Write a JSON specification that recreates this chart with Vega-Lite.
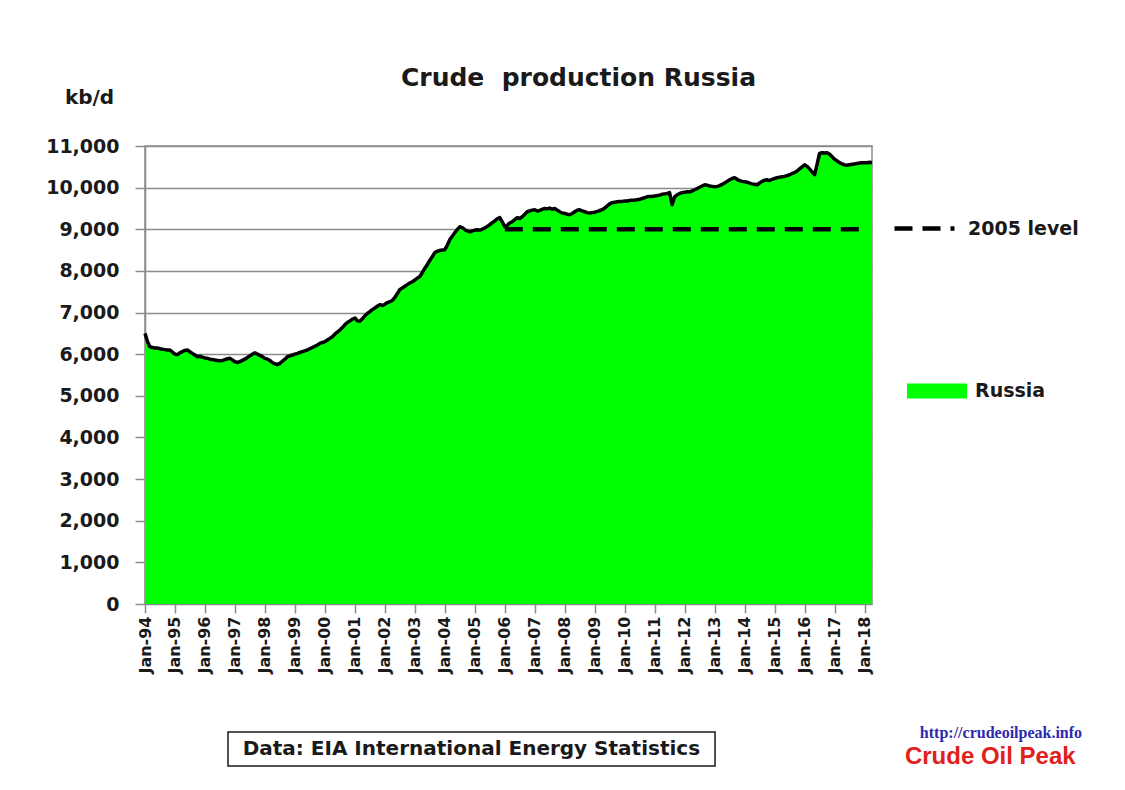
{
  "$schema": "https://vega.github.io/schema/vega-lite/v6.json",
  "width": 727,
  "height": 458,
  "autosize": "none",
  "padding": {"left": 145, "top": 146, "right": 253, "bottom": 186},
  "background": "white",
  "title": {
    "text": "Crude\u00a0 production Russia",
    "font": "DejaVu Sans",
    "fontSize": 25,
    "fontWeight": "bold",
    "color": "#1a1a1a",
    "anchor": "middle",
    "frame": "group",
    "dx": 70,
    "offset": -4
  },
  "config": {
    "view": {"stroke": "#8c8c8c", "strokeWidth": 1.5},
    "axis": {
      "labelFont": "DejaVu Sans",
      "labelFontWeight": "bold",
      "labelColor": "#1a1a1a",
      "domainColor": "#8c8c8c",
      "domainWidth": 1.5,
      "tickColor": "#8c8c8c",
      "tickWidth": 1.5,
      "gridColor": "#8c8c8c",
      "gridWidth": 1.5
    },
    "legend": {
      "labelFont": "DejaVu Sans",
      "labelFontWeight": "bold",
      "labelColor": "#1a1a1a",
      "labelFontSize": 19,
      "padding": 0
    }
  },
  "datasets": {
    "russia": [
      {"d":"1994-01-01","v":6500},{"d":"1994-02-01","v":6300},{"d":"1994-03-01","v":6180},{"d":"1994-04-01","v":6160},{"d":"1994-05-01","v":6150},{"d":"1994-06-01","v":6150},{"d":"1994-07-01","v":6130},{"d":"1994-08-01","v":6120},{"d":"1994-09-01","v":6110},{"d":"1994-10-01","v":6100},{"d":"1994-11-01","v":6100},{"d":"1994-12-01","v":6050},
      {"d":"1995-01-01","v":6000},{"d":"1995-02-01","v":5990},{"d":"1995-03-01","v":6030},{"d":"1995-04-01","v":6060},{"d":"1995-05-01","v":6090},{"d":"1995-06-01","v":6100},{"d":"1995-07-01","v":6060},{"d":"1995-08-01","v":6020},{"d":"1995-09-01","v":5980},{"d":"1995-10-01","v":5940},{"d":"1995-11-01","v":5950},{"d":"1995-12-01","v":5930},
      {"d":"1996-01-01","v":5910},{"d":"1996-02-01","v":5900},{"d":"1996-03-01","v":5880},{"d":"1996-04-01","v":5870},{"d":"1996-05-01","v":5860},{"d":"1996-06-01","v":5850},{"d":"1996-07-01","v":5840},{"d":"1996-08-01","v":5850},{"d":"1996-09-01","v":5870},{"d":"1996-10-01","v":5890},{"d":"1996-11-01","v":5900},{"d":"1996-12-01","v":5860},
      {"d":"1997-01-01","v":5820},{"d":"1997-02-01","v":5800},{"d":"1997-03-01","v":5820},{"d":"1997-04-01","v":5850},{"d":"1997-05-01","v":5880},{"d":"1997-06-01","v":5920},{"d":"1997-07-01","v":5960},{"d":"1997-08-01","v":6000},{"d":"1997-09-01","v":6030},{"d":"1997-10-01","v":6000},{"d":"1997-11-01","v":5970},{"d":"1997-12-01","v":5940},
      {"d":"1998-01-01","v":5900},{"d":"1998-02-01","v":5880},{"d":"1998-03-01","v":5850},{"d":"1998-04-01","v":5800},{"d":"1998-05-01","v":5770},{"d":"1998-06-01","v":5750},{"d":"1998-07-01","v":5780},{"d":"1998-08-01","v":5830},{"d":"1998-09-01","v":5880},{"d":"1998-10-01","v":5940},{"d":"1998-11-01","v":5960},{"d":"1998-12-01","v":5980},
      {"d":"1999-01-01","v":6000},{"d":"1999-02-01","v":6020},{"d":"1999-03-01","v":6040},{"d":"1999-04-01","v":6060},{"d":"1999-05-01","v":6080},{"d":"1999-06-01","v":6100},{"d":"1999-07-01","v":6130},{"d":"1999-08-01","v":6160},{"d":"1999-09-01","v":6190},{"d":"1999-10-01","v":6220},{"d":"1999-11-01","v":6260},{"d":"1999-12-01","v":6280},
      {"d":"2000-01-01","v":6300},{"d":"2000-02-01","v":6340},{"d":"2000-03-01","v":6380},{"d":"2000-04-01","v":6420},{"d":"2000-05-01","v":6480},{"d":"2000-06-01","v":6530},{"d":"2000-07-01","v":6580},{"d":"2000-08-01","v":6640},{"d":"2000-09-01","v":6710},{"d":"2000-10-01","v":6760},{"d":"2000-11-01","v":6800},{"d":"2000-12-01","v":6840},
      {"d":"2001-01-01","v":6870},{"d":"2001-02-01","v":6800},{"d":"2001-03-01","v":6790},{"d":"2001-04-01","v":6850},{"d":"2001-05-01","v":6920},{"d":"2001-06-01","v":6980},{"d":"2001-07-01","v":7020},{"d":"2001-08-01","v":7070},{"d":"2001-09-01","v":7110},{"d":"2001-10-01","v":7150},{"d":"2001-11-01","v":7190},{"d":"2001-12-01","v":7170},
      {"d":"2002-01-01","v":7200},{"d":"2002-02-01","v":7240},{"d":"2002-03-01","v":7260},{"d":"2002-04-01","v":7290},{"d":"2002-05-01","v":7360},{"d":"2002-06-01","v":7450},{"d":"2002-07-01","v":7550},{"d":"2002-08-01","v":7590},{"d":"2002-09-01","v":7630},{"d":"2002-10-01","v":7670},{"d":"2002-11-01","v":7710},{"d":"2002-12-01","v":7740},
      {"d":"2003-01-01","v":7780},{"d":"2003-02-01","v":7830},{"d":"2003-03-01","v":7860},{"d":"2003-04-01","v":7960},{"d":"2003-05-01","v":8060},{"d":"2003-06-01","v":8150},{"d":"2003-07-01","v":8250},{"d":"2003-08-01","v":8340},{"d":"2003-09-01","v":8440},{"d":"2003-10-01","v":8470},{"d":"2003-11-01","v":8490},{"d":"2003-12-01","v":8500},
      {"d":"2004-01-01","v":8510},{"d":"2004-02-01","v":8620},{"d":"2004-03-01","v":8750},{"d":"2004-04-01","v":8830},{"d":"2004-05-01","v":8920},{"d":"2004-06-01","v":8990},{"d":"2004-07-01","v":9060},{"d":"2004-08-01","v":9040},{"d":"2004-09-01","v":8990},{"d":"2004-10-01","v":8960},{"d":"2004-11-01","v":8940},{"d":"2004-12-01","v":8960},
      {"d":"2005-01-01","v":8980},{"d":"2005-02-01","v":8990},{"d":"2005-03-01","v":8980},{"d":"2005-04-01","v":9000},{"d":"2005-05-01","v":9030},{"d":"2005-06-01","v":9070},{"d":"2005-07-01","v":9110},{"d":"2005-08-01","v":9160},{"d":"2005-09-01","v":9200},{"d":"2005-10-01","v":9250},{"d":"2005-11-01","v":9280},{"d":"2005-12-01","v":9180},
      {"d":"2006-01-01","v":9060},{"d":"2006-02-01","v":9100},{"d":"2006-03-01","v":9150},{"d":"2006-04-01","v":9180},{"d":"2006-05-01","v":9230},{"d":"2006-06-01","v":9280},{"d":"2006-07-01","v":9260},{"d":"2006-08-01","v":9300},{"d":"2006-09-01","v":9360},{"d":"2006-10-01","v":9420},{"d":"2006-11-01","v":9440},{"d":"2006-12-01","v":9460},
      {"d":"2007-01-01","v":9470},{"d":"2007-02-01","v":9440},{"d":"2007-03-01","v":9450},{"d":"2007-04-01","v":9480},{"d":"2007-05-01","v":9500},{"d":"2007-06-01","v":9490},{"d":"2007-07-01","v":9510},{"d":"2007-08-01","v":9480},{"d":"2007-09-01","v":9500},{"d":"2007-10-01","v":9460},{"d":"2007-11-01","v":9420},{"d":"2007-12-01","v":9390},
      {"d":"2008-01-01","v":9380},{"d":"2008-02-01","v":9360},{"d":"2008-03-01","v":9350},{"d":"2008-04-01","v":9380},{"d":"2008-05-01","v":9420},{"d":"2008-06-01","v":9460},{"d":"2008-07-01","v":9470},{"d":"2008-08-01","v":9440},{"d":"2008-09-01","v":9420},{"d":"2008-10-01","v":9400},{"d":"2008-11-01","v":9390},{"d":"2008-12-01","v":9400},
      {"d":"2009-01-01","v":9410},{"d":"2009-02-01","v":9430},{"d":"2009-03-01","v":9450},{"d":"2009-04-01","v":9470},{"d":"2009-05-01","v":9510},{"d":"2009-06-01","v":9560},{"d":"2009-07-01","v":9610},{"d":"2009-08-01","v":9640},{"d":"2009-09-01","v":9650},{"d":"2009-10-01","v":9660},{"d":"2009-11-01","v":9670},{"d":"2009-12-01","v":9670},
      {"d":"2010-01-01","v":9680},{"d":"2010-02-01","v":9680},{"d":"2010-03-01","v":9690},{"d":"2010-04-01","v":9700},{"d":"2010-05-01","v":9700},{"d":"2010-06-01","v":9710},{"d":"2010-07-01","v":9720},{"d":"2010-08-01","v":9740},{"d":"2010-09-01","v":9760},{"d":"2010-10-01","v":9780},{"d":"2010-11-01","v":9790},{"d":"2010-12-01","v":9790},
      {"d":"2011-01-01","v":9800},{"d":"2011-02-01","v":9810},{"d":"2011-03-01","v":9820},{"d":"2011-04-01","v":9840},{"d":"2011-05-01","v":9850},{"d":"2011-06-01","v":9860},{"d":"2011-07-01","v":9880},{"d":"2011-08-01","v":9590},{"d":"2011-09-01","v":9780},{"d":"2011-10-01","v":9830},{"d":"2011-11-01","v":9860},{"d":"2011-12-01","v":9880},
      {"d":"2012-01-01","v":9890},{"d":"2012-02-01","v":9900},{"d":"2012-03-01","v":9900},{"d":"2012-04-01","v":9920},{"d":"2012-05-01","v":9950},{"d":"2012-06-01","v":9980},{"d":"2012-07-01","v":10010},{"d":"2012-08-01","v":10040},{"d":"2012-09-01","v":10070},{"d":"2012-10-01","v":10060},{"d":"2012-11-01","v":10040},{"d":"2012-12-01","v":10030},
      {"d":"2013-01-01","v":10020},{"d":"2013-02-01","v":10030},{"d":"2013-03-01","v":10050},{"d":"2013-04-01","v":10080},{"d":"2013-05-01","v":10110},{"d":"2013-06-01","v":10150},{"d":"2013-07-01","v":10190},{"d":"2013-08-01","v":10220},{"d":"2013-09-01","v":10240},{"d":"2013-10-01","v":10200},{"d":"2013-11-01","v":10170},{"d":"2013-12-01","v":10150},
      {"d":"2014-01-01","v":10140},{"d":"2014-02-01","v":10130},{"d":"2014-03-01","v":10110},{"d":"2014-04-01","v":10090},{"d":"2014-05-01","v":10080},{"d":"2014-06-01","v":10070},{"d":"2014-07-01","v":10110},{"d":"2014-08-01","v":10150},{"d":"2014-09-01","v":10180},{"d":"2014-10-01","v":10190},{"d":"2014-11-01","v":10170},{"d":"2014-12-01","v":10200},
      {"d":"2015-01-01","v":10220},{"d":"2015-02-01","v":10240},{"d":"2015-03-01","v":10250},{"d":"2015-04-01","v":10260},{"d":"2015-05-01","v":10270},{"d":"2015-06-01","v":10290},{"d":"2015-07-01","v":10310},{"d":"2015-08-01","v":10340},{"d":"2015-09-01","v":10360},{"d":"2015-10-01","v":10400},{"d":"2015-11-01","v":10450},{"d":"2015-12-01","v":10500},
      {"d":"2016-01-01","v":10550},{"d":"2016-02-01","v":10510},{"d":"2016-03-01","v":10450},{"d":"2016-04-01","v":10380},{"d":"2016-05-01","v":10310},{"d":"2016-06-01","v":10560},{"d":"2016-07-01","v":10820},{"d":"2016-08-01","v":10840},{"d":"2016-09-01","v":10830},{"d":"2016-10-01","v":10840},{"d":"2016-11-01","v":10800},{"d":"2016-12-01","v":10740},
      {"d":"2017-01-01","v":10680},{"d":"2017-02-01","v":10640},{"d":"2017-03-01","v":10600},{"d":"2017-04-01","v":10570},{"d":"2017-05-01","v":10550},{"d":"2017-06-01","v":10540},{"d":"2017-07-01","v":10550},{"d":"2017-08-01","v":10560},{"d":"2017-09-01","v":10570},{"d":"2017-10-01","v":10580},{"d":"2017-11-01","v":10590},{"d":"2017-12-01","v":10600},
      {"d":"2018-01-01","v":10600},{"d":"2018-02-01","v":10600},{"d":"2018-03-01","v":10610},{"d":"2018-04-01","v":10600}
    ],
    "level": [
      {"d":"2006-01-01","v":9000},
      {"d":"2018-01-01","v":9000}
    ]
  },
  "layer": [
    {
      "data": {"name": "russia"},
      "mark": {"type": "area", "opacity": 1},
      "encoding": {
        "x": {
          "field": "d", "type": "temporal",
          "scale": {"type": "utc", "domain": [{"year": 1994, "month": 1, "date": 1, "utc": true}, {"year": 2018, "month": 4, "date": 1, "utc": true}]},
          "axis": {
            "title": null,
            "format": "%b-%y",
            "labelAngle": -90,
            "labelFontSize": 16,
            "tickCount": {"interval": "year", "step": 1},
            "tickSize": 9,
            "labelPadding": 3,
            "grid": false,
            "domain": false,
            "labelOverlap": false,
            "labelFlush": false
          }
        },
        "y": {
          "field": "v", "type": "quantitative",
          "scale": {"domain": [0, 11000], "nice": false},
          "axis": {
            "title": "kb/d",
            "titleFont": "DejaVu Sans",
            "titleFontSize": 20,
            "titleFontWeight": "bold",
            "titleColor": "#1a1a1a",
            "titleAngle": 0,
            "titleAlign": "center",
            "titleBaseline": "middle",
            "titleX": -56,
            "titleY": -49,
            "values": [0,1000,2000,3000,4000,5000,6000,7000,8000,9000,10000,11000],
            "format": ",.0f",
            "labelFontSize": 19,
            "tickSize": 10,
            "labelPadding": 16,
            "grid": true
          }
        },
        "color": {
          "datum": "Russia",
          "scale": {"domain": ["Russia"], "range": ["#00ff00"]},
          "legend": {
            "orient": "none",
            "legendX": 762,
            "legendY": 215,
            "title": null,
            "symbolType": "M-1,-0.25H1V0.25H-1Z",
            "symbolSize": 3600,
            "symbolOpacity": 1,
            "symbolStrokeWidth": 0,
            "labelOffset": 8
          }
        }
      }
    },
    {
      "data": {"name": "russia"},
      "mark": {"type": "line", "color": "black", "strokeWidth": 3.5, "strokeJoin": "round"},
      "encoding": {
        "x": {"field": "d", "type": "temporal"},
        "y": {"field": "v", "type": "quantitative"}
      }
    },
    {
      "data": {"name": "level"},
      "mark": {"type": "line", "color": "black", "strokeWidth": 4.5},
      "encoding": {
        "x": {"field": "d", "type": "temporal"},
        "y": {"field": "v", "type": "quantitative"},
        "strokeDash": {
          "datum": "2005 level",
          "scale": {"domain": ["2005 level"], "range": [[18, 10]]},
          "legend": {
            "orient": "none",
            "legendX": 747,
            "legendY": 50,
            "title": null,
            "symbolType": "stroke",
            "symbolSize": 3600,
            "symbolStrokeWidth": 4.5,
            "symbolStrokeColor": "black",
            "labelOffset": 11
          }
        }
      }
    },
    {
      "data": {"values": [{}]},
      "mark": {"type": "rect", "fill": "white", "stroke": "#1a1a1a", "strokeWidth": 1.5, "clip": false},
      "encoding": {
        "x": {"datum": {"year": 1996, "month": 10, "date": 8, "utc": true}, "type": "temporal"},
        "x2": {"datum": {"year": 2013, "month": 1, "date": 5, "utc": true}},
        "y": {"datum": -3074, "type": "quantitative"},
        "y2": {"datum": -3891}
      }
    },
    {
      "data": {"values": [{}]},
      "mark": {"type": "text", "text": "Data: EIA International Energy Statistics", "font": "DejaVu Sans", "fontWeight": "bold", "fontSize": 20, "color": "#1a1a1a", "align": "center", "baseline": "middle", "clip": false},
      "encoding": {
        "x": {"datum": {"year": 2004, "month": 11, "date": 20, "utc": true}, "type": "temporal"},
        "y": {"datum": -3482, "type": "quantitative"}
      }
    },
    {
      "data": {"values": [{}]},
      "mark": {"type": "text", "text": "http://crudeoilpeak.info", "font": "Liberation Serif", "fontWeight": "bold", "fontSize": 16, "color": "#2a2ab0", "align": "center", "baseline": "middle", "clip": false},
      "encoding": {
        "x": {"datum": {"year": 2022, "month": 7, "date": 20, "utc": true}, "type": "temporal"},
        "y": {"datum": -3098, "type": "quantitative"}
      }
    },
    {
      "data": {"values": [{}]},
      "mark": {"type": "text", "text": "Crude Oil Peak", "font": "Liberation Sans", "fontWeight": "bold", "fontSize": 24, "color": "#e0201b", "align": "center", "baseline": "middle", "clip": false},
      "encoding": {
        "x": {"datum": {"year": 2022, "month": 3, "date": 12, "utc": true}, "type": "temporal"},
        "y": {"datum": -3674, "type": "quantitative"}
      }
    }
  ]
}
